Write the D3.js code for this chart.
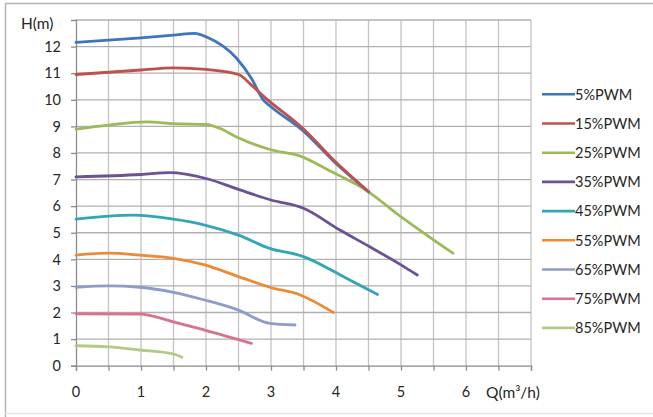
<!DOCTYPE html>
<html>
<head>
<meta charset="utf-8">
<script src="https://cdn.jsdelivr.net/npm/d3@7"></script>
<style>
  html, body { margin: 0; padding: 0; background: #fff; }
  svg { display: block; }
  text { font-family: Lato, "Open Sans", sans-serif; fill: #262626; }
</style>
</head>
<body>
<svg id="chart" width="653" height="417"></svg>
<script>
// ---- data ----
const seriesNames = ["5%PWM","15%PWM","25%PWM","35%PWM","45%PWM","55%PWM","65%PWM","75%PWM","85%PWM"];
const seriesColors = ["#3f76bb","#c0504d","#9bbb59","#6a5294","#31a6b7","#ee8a35","#8e9ccc","#d9728c","#b3c98a"];

const q5  = [0, 1, 1.5, 1.83, 2.0, 2.47, 2.7, 2.88, 3.0, 3.5, 4.0, 4.5];
const h5  = [12.16, 12.33, 12.43, 12.5, 12.37, 11.56, 10.8, 10.0, 9.74, 8.82, 7.6, 6.54];

const q15 = [0, 1, 1.5, 2.0, 2.5, 2.7, 2.9, 3.5, 4.0, 4.5];
const h15 = [10.95, 11.12, 11.2, 11.14, 10.95, 10.55, 10.1, 8.9, 7.65, 6.55];

const q25 = [0, 0.5, 1.09, 1.5, 2.0, 2.22, 2.47, 3.0, 3.45, 3.88, 4.5, 4.93, 5.8];
const h25 = [8.9, 9.05, 9.17, 9.1, 9.07, 8.92, 8.6, 8.12, 7.88, 7.36, 6.54, 5.73, 4.23];

const q35 = [0, 1, 1.45, 2.0, 2.5, 3.0, 3.5, 4.06, 4.52, 4.98, 5.25];
const h35 = [7.1, 7.19, 7.26, 7.04, 6.63, 6.23, 5.92, 5.1, 4.47, 3.82, 3.41];

const q45 = [0, 0.88, 1.5, 1.98, 2.5, 2.98, 3.5, 3.91, 4.06, 4.64];
const h45 = [5.51, 5.66, 5.51, 5.29, 4.91, 4.41, 4.1, 3.62, 3.42, 2.68];

const q55 = [0, 0.5, 0.98, 1.5, 1.98, 2.5, 2.98, 3.45, 3.96];
const h55 = [4.16, 4.23, 4.16, 4.04, 3.79, 3.35, 2.95, 2.66, 2.0];

const q65 = [0, 0.5, 0.98, 1.5, 1.98, 2.5, 2.98, 3.37];
const h65 = [2.95, 3.0, 2.95, 2.76, 2.47, 2.09, 1.59, 1.53];

const q75 = [0, 0.98, 1.5, 1.98, 2.7];
const h75 = [1.95, 1.94, 1.65, 1.34, 0.84];

const q85 = [0, 0.5, 0.98, 1.5, 1.63];
const h85 = [0.75, 0.71, 0.59, 0.44, 0.32];

const xTicks = [0, 1, 2, 3, 4, 5, 6];
const yTicks = [0, 1, 2, 3, 4, 5, 6, 7, 8, 9, 10, 11, 12];

const allQ = [q5, q15, q25, q35, q45, q55, q65, q75, q85];
const allH = [h5, h15, h25, h35, h45, h55, h65, h75, h85];

// ---- layout ----
const svg = d3.select("#chart");
const mLeft = 76, mRight = 531, mTop = 20, mBottom = 365.7;

const x = d3.scaleLinear().domain([0, 7]).range([mLeft, mRight]);
const y = d3.scaleLinear().domain([0, 13]).range([mBottom, mTop]);

// outer frame
svg.append("path")
  .attr("d", "M5.5,417 L5.5,3.5 L653,3.5")
  .attr("fill", "none").attr("stroke", "#b5b5b5").attr("stroke-width", 1.5);
svg.append("line").attr("x1", 5).attr("x2", 653).attr("y1", 413.5).attr("y2", 413.5)
  .attr("stroke", "#e6e6e6").attr("stroke-width", 1.5);

// grid
const g = svg.append("g");
g.selectAll(".vg").data(d3.range(0.5, 7.01, 0.5)).join("line")
  .attr("x1", d => x(d)).attr("x2", d => x(d))
  .attr("y1", y(13)).attr("y2", y(0))
  .attr("stroke", "#c4c4c4").attr("stroke-width", 1.3);
g.selectAll(".hg").data(d3.range(1, 13.01, 1)).join("line")
  .attr("x1", x(0)).attr("x2", x(7))
  .attr("y1", d => y(d)).attr("y2", d => y(d))
  .attr("stroke", "#b0b0b0").attr("stroke-width", 1.3);

// axes
const xAxis = d3.axisBottom(x).tickValues(d3.range(0, 7.01, 0.5)).tickSize(5).tickFormat("");
const yAxis = d3.axisLeft(y).tickValues(yTicks).tickSize(5).tickFormat("");
const gx = svg.append("g").attr("transform", `translate(0,${mBottom})`).call(xAxis);
const gy = svg.append("g").attr("transform", `translate(${mLeft},0)`).call(yAxis);
[gx, gy].forEach(a => {
  a.select(".domain").attr("stroke", "#8c8c8c").attr("stroke-width", 1.3);
  a.selectAll(".tick line").attr("stroke", "#8c8c8c").attr("stroke-width", 1.3);
});

// tick labels
svg.append("g").selectAll("text").data(yTicks).join("text")
  .attr("x", 61).attr("y", d => y(d)).attr("dy", "0.36em")
  .attr("text-anchor", "end").attr("font-size", 14.5).text(d => d);
svg.append("g").selectAll("text").data(xTicks).join("text")
  .attr("x", d => x(d)).attr("y", 392).attr("dy", "0.36em")
  .attr("text-anchor", "middle").attr("font-size", 14.5).text(d => d);

// axis titles
svg.append("text").attr("x", 21).attr("y", 23).attr("dy", "0.36em")
  .attr("font-size", 15.5).text("H(m)");
svg.append("text").attr("x", 486).attr("y", 392).attr("dy", "0.36em")
  .attr("font-size", 15.5).text("Q(m³/h)");

// lines
const line = d3.line().x(d => x(d[0])).y(d => y(d[1])).curve(d3.curveMonotoneX);
const order = [8, 7, 6, 5, 4, 3, 2, 0, 1];
order.forEach(i => {
  const pts = allQ[i].map((q, k) => [q, allH[i][k]]);
  svg.append("path").datum(pts)
    .attr("d", line)
    .attr("fill", "none")
    .attr("stroke", seriesColors[i])
    .attr("stroke-width", 2.8)
    .attr("stroke-linejoin", "round")
    .attr("stroke-linecap", "round");
});

// legend
const leg = svg.append("g");
seriesNames.forEach((name, i) => {
  const ly = 94.3 + i * 29.2;
  leg.append("line").attr("x1", 542).attr("x2", 575).attr("y1", ly).attr("y2", ly)
    .attr("stroke", seriesColors[i]).attr("stroke-width", 2.6);
  leg.append("text").attr("x", 575).attr("y", ly).attr("dy", "0.36em")
    .attr("font-size", 14.5).text(name);
});
</script>
</body>
</html>
